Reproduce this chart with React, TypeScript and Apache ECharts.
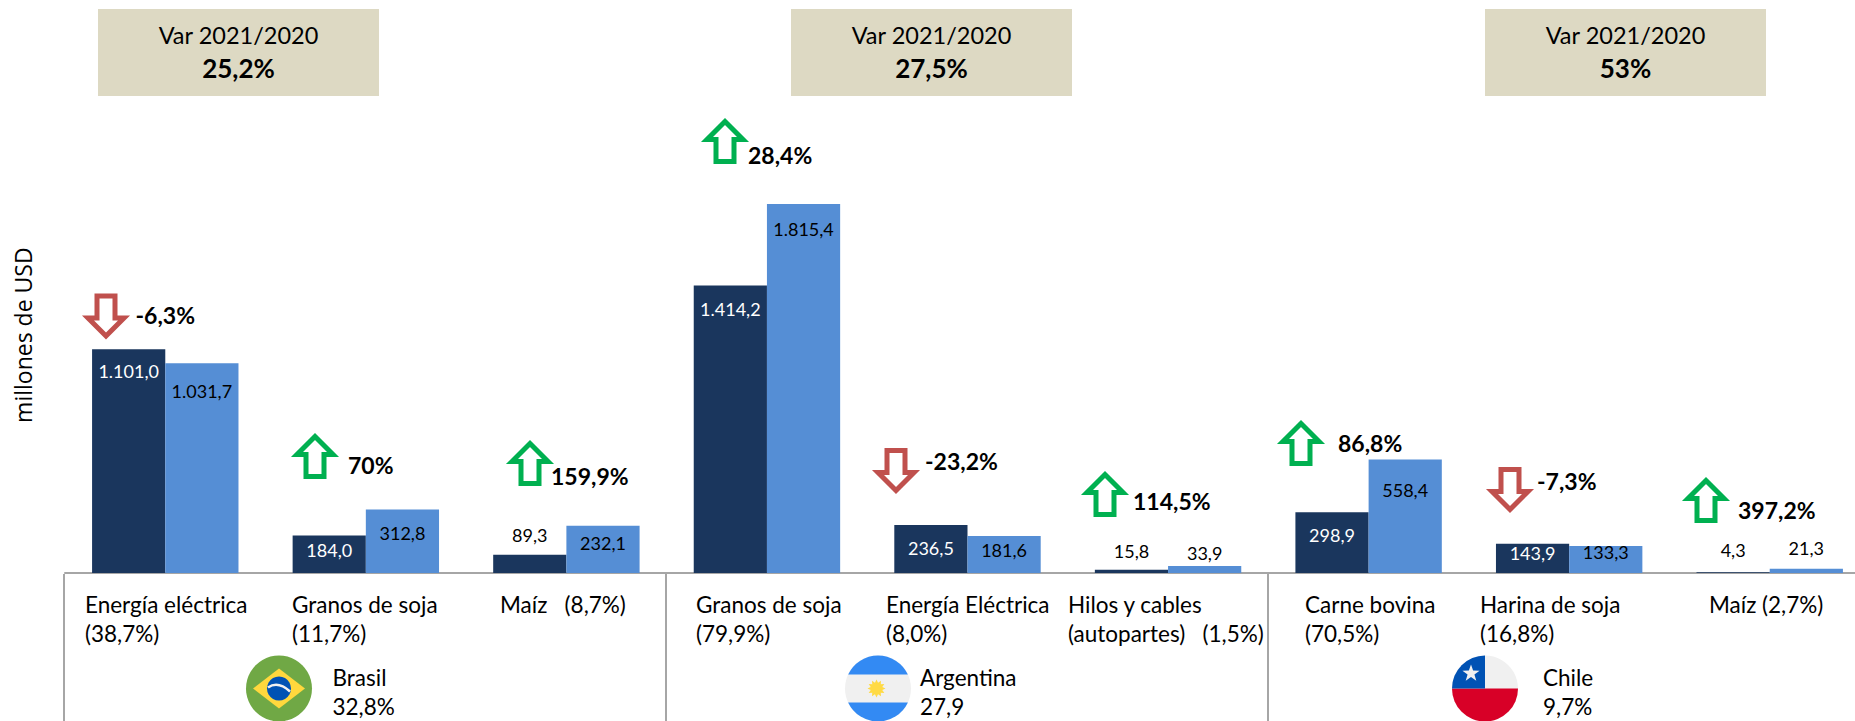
import React, { useEffect, useRef } from "react";
import * as echarts from "echarts";

const categories = ["Energía eléctrica", "Granos de soja", "Maíz", "Granos de soja ", "Energía Eléctrica", "Hilos y cables", "Carne bovina", "Harina de soja", "Maíz "];
const categoryLabels = [
  "Energía eléctrica\n(38,7%)", "Granos de soja\n(11,7%)", "Maíz   (8,7%)",
  "Granos de soja\n(79,9%)", "Energía Eléctrica\n(8,0%)", "Hilos y cables\n(autopartes)   (1,5%)",
  "Carne bovina\n(70,5%)", "Harina de soja\n(16,8%)", "Maíz (2,7%)",
];
const values2020 = [1101.0, 184.0, 89.3, 1414.2, 236.5, 15.8, 298.9, 143.9, 4.3];
const values2021 = [1031.7, 312.8, 232.1, 1815.4, 181.6, 33.9, 558.4, 133.3, 21.3];
const labels2020 = ["1.101,0", "184,0", "89,3", "1.414,2", "236,5", "15,8", "298,9", "143,9", "4,3"];
const labels2021 = ["1.031,7", "312,8", "232,1", "1.815,4", "181,6", "33,9", "558,4", "133,3", "21,3"];
const changes = ["-6,3%", "70%", "159,9%", "28,4%", "-23,2%", "114,5%", "86,8%", "-7,3%", "397,2%"];
const changeUp = [false, true, true, true, false, true, true, false, true];
const boxValues = ["25,2%", "27,5%", "53%"];
const boxTitle = "Var 2021/2020";
const countries = ["Brasil", "Argentina", "Chile"];
const countryShares = ["32,8%", "27,9", "9,7%"];
const axisName = "millones de USD";

// layout (pixels)
const W = 1855, H = 721, CANVAS_W = 1900;
const BASE = 573, PX = 0.2033, YMAX = 2340;
const GRID_LEFT = 65, GRID_W = 1805;
const labelDy2020 = [22, 14, -20, 24, 23, -19, 23, 9, -22];
const labelDy2021 = [28, 24, 17, 25, 14, -13, 31, 6, -21];
const catX = [85, 292, 500, 696, 886, 1068, 1305, 1480, 1709];
const arrowX = [106, 315, 530, 725, 896, 1105, 1301, 1510, 1706];
const arrowY = [316.5, 456, 463, 141, 471, 494, 443, 490, 500];
const changeX = [135.5, 348, 551, 748, 925, 1133, 1338, 1537, 1738];
const changeY = [315, 465, 476, 155, 461, 500.7, 443, 481, 510];
const boxX = [98, 791, 1485];
const sepX = [64, 666, 1268];
const countryX = [332.5, 920, 1543];
const flagX = [279, 878, 1485];
const FONT = "Lato, sans-serif";
const DARK = "#1A365D", LIGHT = "#558ED5", SEP = "#A6A6A6";

const arrowPts = [[0, -19.5], [18, -1.5], [9, -1.5], [9, 20.5], [-9, 20.5], [-9, -1.5], [-18, -1.5]];

function starPoints(n: number, R: number, r: number) {
  const pts: number[][] = [];
  for (let i = 0; i < n * 2; i++) {
    const a = -Math.PI / 2 + (i * Math.PI) / n;
    const rad = i % 2 ? r : R;
    pts.push([rad * Math.cos(a), rad * Math.sin(a)]);
  }
  return pts;
}

function flagElements(): any[] {
  const cy = 688.5, R = 33;
  const [bx, ax, cx] = flagX;
  return [
    // Brasil
    { type: "circle", shape: { cx: bx, cy, r: R }, style: { fill: "#70A845" } },
    { type: "polygon", shape: { points: [[bx - 26, cy], [bx, cy - 20], [bx + 26, cy], [bx, cy + 20]] }, style: { fill: "#FFD83D" } },
    { type: "circle", shape: { cx: bx, cy, r: 12 }, style: { fill: "#0052B4" } },
    { type: "bezierCurve", shape: { x1: bx - 11, y1: cy - 1, x2: bx + 11, y2: cy + 3, cpx1: bx - 1, cpy1: cy - 8 }, style: { stroke: "#F0F0F0", lineWidth: 2.5, fill: "none" } },
    // Argentina
    { type: "circle", shape: { cx: ax, cy, r: R }, style: { fill: "#F0F0F0" } },
    { type: "flagSeg", x: ax, y: cy, style: { fill: "#338AF3" } },
    { type: "flagSeg", x: ax, y: cy, scaleY: -1, style: { fill: "#338AF3" } },
    { type: "polygon", x: ax - 1.5, y: cy, shape: { points: starPoints(12, 9, 6) }, style: { fill: "#FFDA44" } },
    // Chile
    { type: "circle", shape: { cx, cy, r: R }, style: { fill: "#F0F0F0" } },
    { type: "sector", shape: { cx, cy, r: R, r0: 0, startAngle: 0, endAngle: Math.PI }, style: { fill: "#D80027" } },
    { type: "sector", shape: { cx, cy, r: R, r0: 0, startAngle: Math.PI, endAngle: Math.PI * 1.5 }, style: { fill: "#0052B4" } },
    { type: "polygon", x: cx - 14, y: cy - 15, shape: { points: starPoints(5, 9, 3.6) }, style: { fill: "#F0F0F0" } },
  ];
}

function graphicElements(): any[] {
  const els: any[] = [];
  boxValues.forEach((v, i) => {
    els.push({ type: "rect", shape: { x: boxX[i], y: 9, width: 281, height: 87 }, style: { fill: "#DDD9C3" } });
    els.push({ type: "text", style: { text: boxTitle, x: boxX[i] + 140.5, y: 35, align: "center", verticalAlign: "middle", font: `400 23.5px ${FONT}`, fill: "#000" } });
    els.push({ type: "text", style: { text: v, x: boxX[i] + 140.5, y: 68, align: "center", verticalAlign: "middle", font: `700 26px ${FONT}`, fill: "#000" } });
  });
  sepX.forEach((x) => {
    els.push({ type: "line", shape: { x1: x, y1: 574, x2: x, y2: H }, style: { stroke: SEP, lineWidth: 2 } });
  });
  categoryLabels.forEach((t, i) => {
    els.push({ type: "text", style: { text: t, x: catX[i], y: 590, align: "left", verticalAlign: "top", font: `400 22.5px ${FONT}`, lineHeight: 29, fill: "#000" } });
  });
  countries.forEach((c, i) => {
    els.push({ type: "text", style: { text: `${c}\n${countryShares[i]}`, x: countryX[i], y: 663, align: "left", verticalAlign: "top", font: `400 22.5px ${FONT}`, lineHeight: 29, fill: "#000" } });
  });
  els.push(...flagElements());
  changes.forEach((t, i) => {
    const up = changeUp[i];
    els.push({
      type: "polygon", x: arrowX[i], y: arrowY[i], scaleY: up ? 1 : -1,
      shape: { points: arrowPts },
      style: { fill: "#fff", stroke: up ? "#00B050" : "#C0504D", lineWidth: 5, lineJoin: "miter", miterLimit: 10 },
    });
    els.push({ type: "text", style: { text: t, x: changeX[i], y: changeY[i], align: "left", verticalAlign: "middle", font: `700 23px ${FONT}`, fill: "#000" } });
  });
  return els;
}

function barData(values: number[], labels: string[], dy: number[], dark: boolean) {
  return values.map((v, i) => ({
    value: v,
    label: {
      show: true,
      position: "top",
      distance: 0,
      verticalAlign: "middle",
      offset: [0, dy[i]],
      formatter: labels[i],
      color: dark && dy[i] > 0 ? "#fff" : "#000",
      fontFamily: FONT,
      fontSize: 18,
    },
  }));
}

export default function App() {
  const ref = useRef<HTMLDivElement>(null);
  useEffect(() => {
    const seg = Math.sqrt(33 * 33 - 14 * 14).toFixed(2);
    echarts.graphic.registerShape("flagSeg", echarts.graphic.extendPath(`M-${seg} -14 A33 33 0 0 1 ${seg} -14 Z`, {}) as any);
    const chart = echarts.init(ref.current!, null, { renderer: "svg", width: CANVAS_W, height: H });
    chart.setOption({
      animation: false,
      backgroundColor: "#fff",
      grid: { left: GRID_LEFT, width: GRID_W, top: BASE - YMAX * PX, height: YMAX * PX },
      xAxis: {
        type: "category",
        data: categories,
        axisLine: { show: true, lineStyle: { color: SEP, width: 2 } },
        axisTick: { show: false },
        axisLabel: { show: false },
      },
      yAxis: {
        type: "value",
        min: 0,
        max: YMAX,
        name: axisName,
        nameLocation: "middle",
        nameGap: 31,
        nameTextStyle: { fontFamily: "'Open Sans', sans-serif", fontSize: 23, color: "#000" },
        axisLine: { show: false },
        axisTick: { show: false },
        axisLabel: { show: false },
        splitLine: { show: false },
      },
      series: [
        { name: "2020", type: "bar", barGap: 0, barCategoryGap: "27%", itemStyle: { color: DARK }, data: barData(values2020, labels2020, labelDy2020, true) },
        { name: "2021", type: "bar", itemStyle: { color: LIGHT }, data: barData(values2021, labels2021, labelDy2021, false) },
      ],
      graphic: { elements: graphicElements() },
    });
    return () => chart.dispose();
  }, []);
  return <div ref={ref} style={{ position: "fixed", left: 0, top: 0, width: W, height: H, overflow: "hidden" }} />;
}
